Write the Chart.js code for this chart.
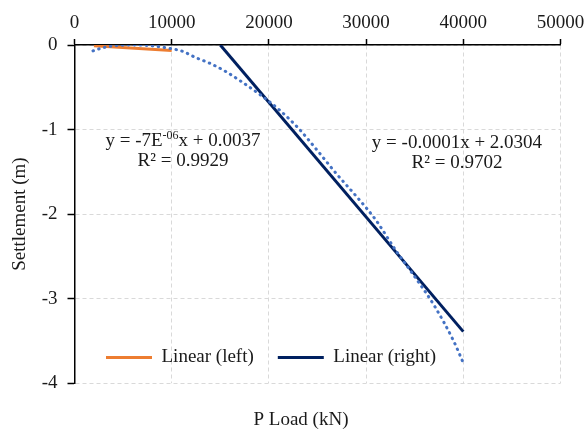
<!DOCTYPE html>
<html>
<head>
<meta charset="utf-8">
<script src="https://cdn.jsdelivr.net/npm/chart.js@4.4.1/dist/chart.umd.min.js"></script>
<style>
html,body{margin:0;padding:0;background:#ffffff;}
#wrap{width:584px;height:430px;}
</style>
</head>
<body>
<div id="wrap"><canvas id="c" width="584" height="430"></canvas></div>
<script>
// ---- Data ----
const curveLoad   = [1900, 3000, 4000, 6000, 8000, 10000, 11000, 12500, 14000, 15500, 17000, 19000, 21000, 23000, 25000, 27000, 29000, 31000, 33000, 35000, 37000, 39000, 40000];
const curveSettle = [-0.07, -0.03, -0.01, 0.0, -0.01, -0.045, -0.07, -0.15, -0.22, -0.31, -0.42, -0.58, -0.76, -0.98, -1.25, -1.53, -1.79, -2.07, -2.42, -2.74, -3.08, -3.50, -3.76];
const leftLoad    = [2000, 10000];
const leftSettle  = [-0.010, -0.066];
const rightLoad   = [15000, 40000];
const rightSettle = [0.0, -3.39];
const seriesNames = ['Settlement curve', 'Linear (left)', 'Linear (right)'];
const xTickValues = [0, 10000, 20000, 30000, 40000, 50000];
const yTickValues = [0, -1, -2, -3, -4];
const eqLeftParts  = ['y = -7E', '-06', 'x + 0.0037'];
const r2Left       = 'R\u00B2 = 0.9929';
const eqRightParts = ['y = -0.0001x + 2.0304', '', ''];
const r2Right      = 'R\u00B2 = 0.9702';
const xTitle = 'P Load (kN)';
const yTitle = 'Settlement (m)';

const FONT = '"Liberation Serif", "Times New Roman", serif';
const TXT = '#1a1a1a';

const toPts = (xs, ys) => xs.map((v, i) => ({x: v, y: ys[i]}));

// annotation anchors (data units) for the trendline equations
const eqAnchors = [
  {x: 11160, y: -1.14, parts: eqLeftParts, r2: r2Left},
  {x: 39350, y: -1.16, parts: eqRightParts, r2: r2Right}
];

const eqPlugin = {
  id: 'eqText',
  afterDatasetsDraw(chart) {
    const {ctx, scales: {x, y}} = chart;
    ctx.save();
    ctx.fillStyle = TXT;
    ctx.textBaseline = 'middle';
    ctx.textAlign = 'left';
    const big = '19px ' + FONT, small = '12px ' + FONT;
    eqAnchors.forEach(a => {
      const cx = x.getPixelForValue(a.x);
      const cy = y.getPixelForValue(a.y);
      ctx.font = big; const w0 = ctx.measureText(a.parts[0]).width;
      ctx.font = small; const w1 = ctx.measureText(a.parts[1]).width;
      ctx.font = big; const w2 = ctx.measureText(a.parts[2]).width;
      let sx = cx - (w0 + w1 + w2) / 2;
      ctx.font = big; ctx.fillText(a.parts[0], sx, cy); sx += w0;
      ctx.font = small; ctx.fillText(a.parts[1], sx, cy - 6); sx += w1;
      ctx.font = big; ctx.fillText(a.parts[2], sx, cy);
      ctx.textAlign = 'center';
      ctx.fillText(a.r2, cx, cy + 20);
      ctx.textAlign = 'left';
    });
    ctx.restore();
  }
};

const placeBoxes = {
  id: 'placeBoxes',
  afterLayout(chart) {
    const lg = chart.legend;
    if (lg) {
      lg.left = 82; lg.right = 582; lg.width = 500;
      lg.top = 324; lg.bottom = 374; lg.height = 50;
    }
    const t = chart.titleBlock;
    if (t) {
      t.left = 151; t.right = 451; t.width = 300;
      const h = t.height;
      t.top = 420 - 11.4 - 22; t.bottom = t.top + h;
    }
  }
};

const bg = {
  id: 'bg',
  beforeDraw(chart) {
    const c = chart.ctx; c.save(); c.fillStyle = '#ffffff';
    c.fillRect(0, 0, chart.width, chart.height); c.restore();
  }
};

new Chart(document.getElementById('c'), {
  type: 'scatter',
  data: {
    datasets: [
      {
        label: seriesNames[0],
        data: toPts(curveLoad, curveSettle),
        showLine: true,
        borderColor: '#4472C4',
        backgroundColor: '#4472C4',
        borderWidth: 3,
        borderDash: [0.5, 5.5],
        borderCapStyle: 'round',
        cubicInterpolationMode: 'monotone',
        pointRadius: 0
      },
      {
        label: seriesNames[1],
        data: toPts(leftLoad, leftSettle),
        showLine: true,
        borderColor: '#ED7D31',
        backgroundColor: '#ED7D31',
        borderWidth: 3,
        pointRadius: 0
      },
      {
        label: seriesNames[2],
        data: toPts(rightLoad, rightSettle),
        showLine: true,
        borderColor: '#002060',
        backgroundColor: '#002060',
        borderWidth: 3,
        pointRadius: 0
      }
    ]
  },
  options: {
    responsive: false,
    devicePixelRatio: 1,
    animation: false,
    layout: {padding: {left: 0, right: 0, top: 0, bottom: 0}},
    scales: {
      x: {
        type: 'linear',
        position: 'top',
        min: Math.min(...xTickValues),
        max: Math.max(...xTickValues),
        afterBuildTicks: s => { s.ticks = xTickValues.map(v => ({value: v})); },
        afterFit: s => { s.height = 45; s.paddingRight = 23.5; },
        ticks: {
          color: TXT, font: {family: FONT, size: 19}, padding: 5,
          maxRotation: 0, autoSkip: false,
          callback: v => String(v)
        },
        grid: {color: '#d9d9d9', lineWidth: 1, tickLength: 6, tickColor: '#000', tickWidth: 1.5},
        border: {display: true, color: '#000', width: 1.5, dash: [4, 3]}
      },
      y: {
        type: 'linear',
        position: 'left',
        min: Math.min(...yTickValues),
        max: Math.max(...yTickValues),
        afterBuildTicks: s => { s.ticks = yTickValues.map(v => ({value: v})); },
        afterFit: s => { s.width = 74.5; },
        ticks: {color: TXT, font: {family: FONT, size: 19}, padding: 10, callback: v => String(v)},
        grid: {color: '#d9d9d9', lineWidth: 1, tickLength: 7, tickColor: '#000', tickWidth: 1.5},
        border: {display: true, color: '#000', width: 1.5, dash: [4, 3]},
        title: {display: true, text: yTitle, color: TXT, font: {family: FONT, size: 19}, padding: {top: 9, bottom: 0}}
      }
    },
    plugins: {
      legend: {
        display: true,
        position: 'bottom',
        align: 'start',
        maxHeight: 1,
        labels: {
          filter: item => item.datasetIndex > 0,
          sort: (a, b) => a.datasetIndex - b.datasetIndex,
          usePointStyle: true,
          pointStyle: 'line',
          pointStyleWidth: 46,
          color: TXT,
          font: {family: FONT, size: 19},
          padding: 24
        }
      },
      title: {
        display: true,
        position: 'bottom',
        text: xTitle,
        color: TXT,
        font: {family: FONT, size: 19, weight: 'normal'},
        padding: {top: 22, bottom: 1}
      },
      tooltip: {enabled: false}
    }
  },
  plugins: [bg, placeBoxes, eqPlugin]
});
</script>
</body>
</html>
